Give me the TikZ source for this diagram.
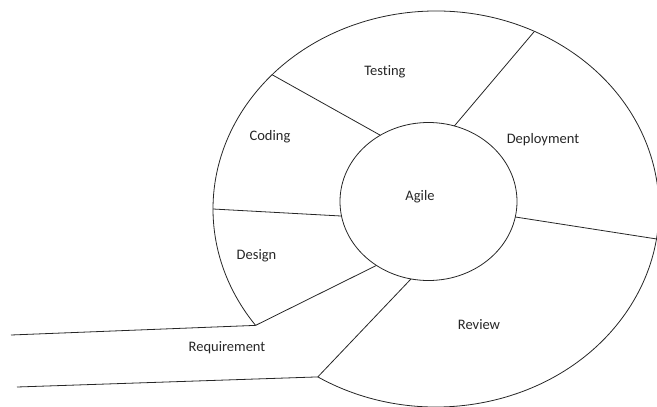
\documentclass[tikz,border=0pt]{standalone}
\usepackage{fontspec}
\setmainfont[Ligatures=NoCommon]{Carlito}
\usetikzlibrary{calc,shapes.geometric}
\tikzset{
  ln/.style={draw=black!85, line width=0.8pt},
  lbl/.style={inner sep=0pt, text=black!85, font=\fontsize{14.5}{17}\selectfont},
}
\begin{document}
\begin{tikzpicture}[x=1pt,y=1pt]
\useasboundingbox (0,0) rectangle (657,-407);
% centres
\coordinate (oc) at (436,-209);
\node[ln, ellipse, minimum width=177pt, minimum height=158pt, inner sep=0pt] (agile) at (428.5,-201.5) {};
% outer ellipse points (parametric angles)
\coordinate (oDC) at ($(oc)+(180:223 and 198)$);
\coordinate (oCT) at ($(oc)+(137.3:223 and 198)$);
\coordinate (oTD) at ($(oc)+(63.8:223 and 198)$);
\coordinate (oDR) at ($(oc)+(-8.7:223 and 198)$);
\coordinate (oRq) at ($(oc)+(238:223 and 198)$);
\coordinate (oDs) at ($(oc)+(216:223 and 198)$);
% inner ellipse points
\coordinate (iCT) at ($(agile.center)+(123:88.5 and 79)$);
\coordinate (iTD) at ($(agile.center)+(73:88.5 and 79)$);
\coordinate (iDR) at ($(agile.center)+(-11.3:88.5 and 79)$);
\coordinate (iRq) at ($(agile.center)+(258.6:88.5 and 79)$);
\coordinate (iDs) at ($(agile.center)+(234:88.5 and 79)$);
\coordinate (iDC) at ($(agile.center)+(190.6:88.5 and 79)$);
% requirement free ends
\coordinate (rTop) at (11,-335);
\coordinate (rBot) at (17,-387);
% outer arc
\draw[ln] (oRq) arc[start angle=238, end angle=576, x radius=223, y radius=198];
% spokes
\draw[ln] (oDC) -- (iDC);
\draw[ln] (oCT) -- (iCT);
\draw[ln] (oTD) -- (iTD);
\draw[ln] (oDR) -- (iDR);
\draw[ln] (oRq) -- (iRq);
\draw[ln] (oDs) -- (iDs);
\draw[ln] (rTop) -- (oDs);
\draw[ln] (rBot) -- (oRq);
% labels
\node[lbl] (tAgile) at (420,-197) {Agile};
\node[lbl] (tTesting) at (385,-72) {Testing};
\node[lbl] (tCoding) at (270,-137) {Coding};
\node[lbl] (tDeploy) at (543,-140) {Deployment};
\node[lbl] (tDesign) at (256.5,-256) {Design};
\node[lbl] (tReview) at (479,-325) {Review};
\node[lbl] (tReq) at (227,-348) {Requirement};
\end{tikzpicture}
\end{document}
